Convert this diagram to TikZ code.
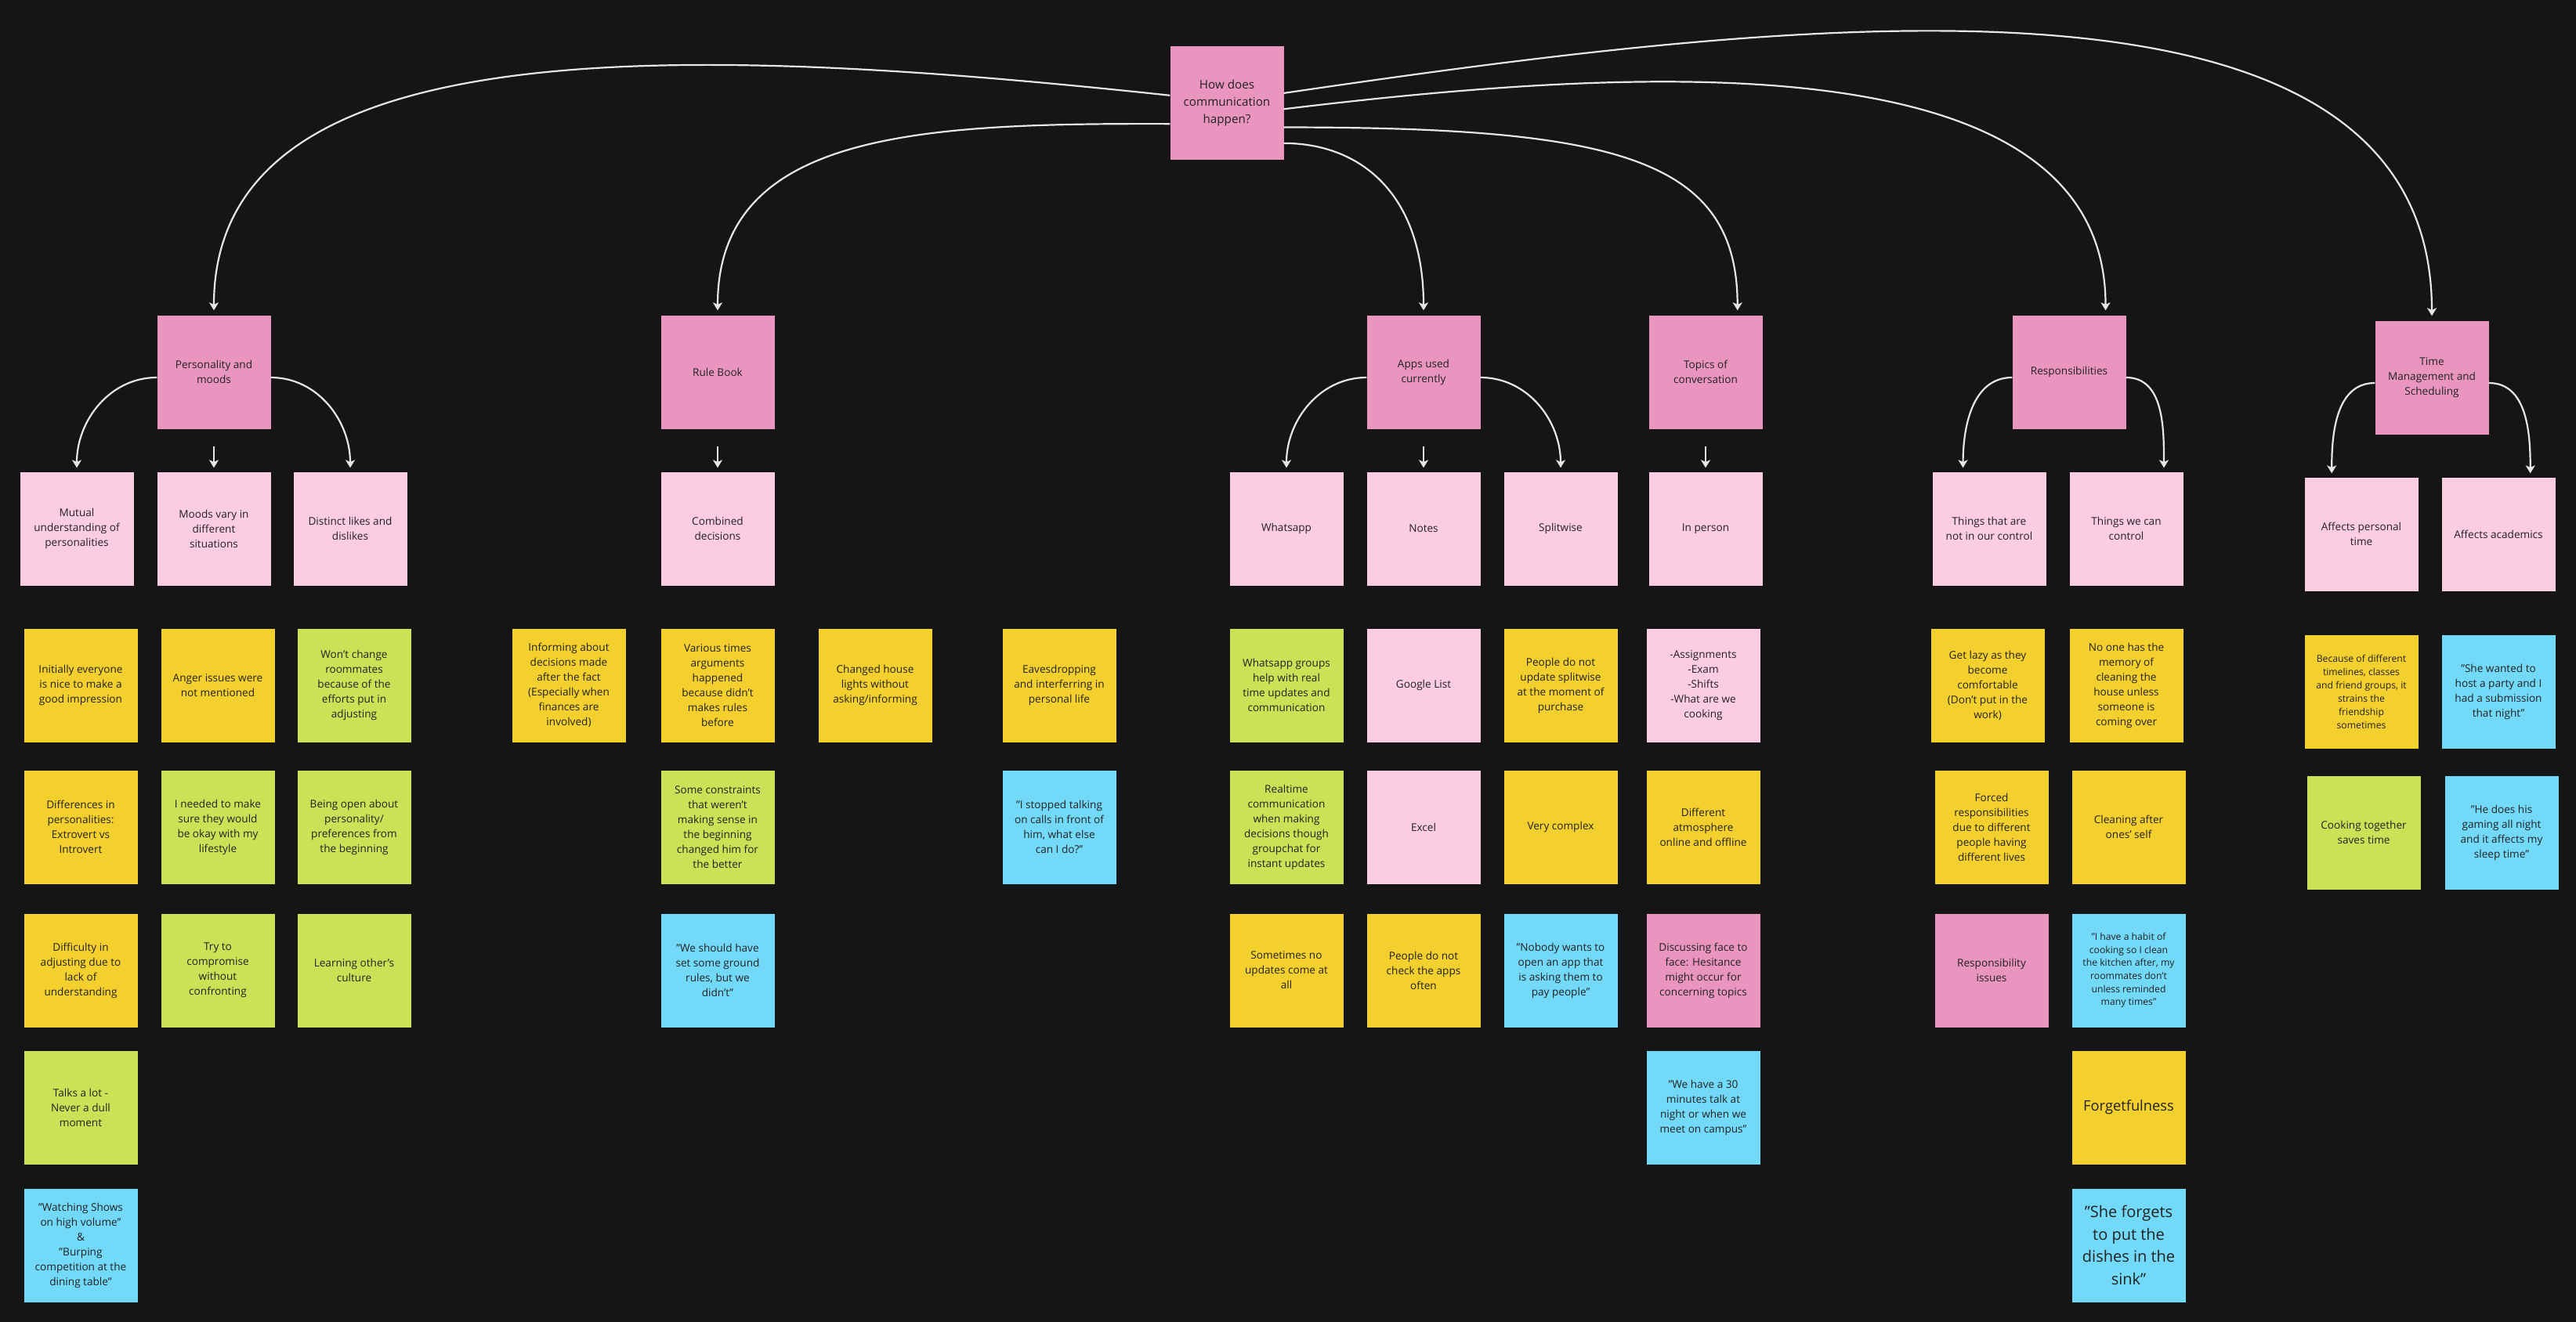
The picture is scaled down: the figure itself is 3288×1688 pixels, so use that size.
\documentclass[tikz,border=0pt]{standalone}
\usepackage{fontspec}
\setmainfont{Open Sans}
\usetikzlibrary{arrows.meta,calc}

\definecolor{board}{HTML}{151515}
\definecolor{wire}{HTML}{E6E6E6}
\definecolor{deeppink}{HTML}{E995C0}
\definecolor{palepink}{HTML}{FCCDE2}
\definecolor{noteyellow}{HTML}{F4D02F}
\definecolor{notelime}{HTML}{CDE157}
\definecolor{notecyan}{HTML}{72D9F8}
\definecolor{ink}{HTML}{222222}

\tikzset{
  sticky/.style={minimum width=145pt, minimum height=145pt, inner sep=1pt,
    align=center, text=ink, font=\fontsize{13.6}{19}\selectfont},
  topicnote/.style={sticky, fill=deeppink},
  subnote/.style={sticky, fill=palepink},
  pinknote/.style={sticky, fill=deeppink},
  yellownote/.style={sticky, fill=noteyellow},
  greennote/.style={sticky, fill=notelime},
  quotenote/.style={sticky, fill=notecyan},
  flow/.style={draw=wire, line width=2.2pt,
    -{Stealth[length=10pt, width=12pt, inset=2.5pt]}}
}

\begin{document}
\begin{tikzpicture}[x=1pt, y=1pt]

% Board
\fill[board] (0,0) rectangle (3288,-1688);
\useasboundingbox (0,0) rectangle (3288,-1688);

% Question
\node[topicnote, font=\fontsize{15.2}{22}\selectfont] (root) at (1566,-132) {How does\\communication\\happen?};

% Themes
\node[topicnote] (pers) at (273,-475) {Personality and\\moods};
\node[topicnote] (rule) at (916,-475) {Rule Book};
\node[topicnote] (apps) at (1817,-475) {Apps used\\currently};
\node[topicnote] (topics) at (2177,-475) {Topics of\\conversation};
\node[topicnote] (resp) at (2641,-475) {Responsibilities};
\node[topicnote] (time) at (3104,-482) {Time\\Management and\\Scheduling};

% Sub themes
\node[subnote] (mutual) at (98,-675) {Mutual\\understanding of\\personalities};
\node[subnote] (moods) at (273,-675) {Moods vary in\\different\\situations};
\node[subnote] (likes) at (447,-675) {Distinct likes and\\dislikes};
\node[subnote] (combined) at (916,-675) {Combined\\decisions};
\node[subnote] (whatsapp) at (1642,-675) {Whatsapp};
\node[subnote] (notes) at (1817,-675) {Notes};
\node[subnote] (splitwise) at (1992,-675) {Splitwise};
\node[subnote] (inperson) at (2177,-675) {In person};
\node[subnote] (notctrl) at (2539,-675) {Things that are\\not in our control};
\node[subnote] (canctrl) at (2714,-675) {Things we can\\control};
\node[subnote] (personal) at (3014,-682) {Affects personal\\time};
\node[subnote] (academics) at (3189,-682) {Affects academics};

% Question to themes
\draw[flow] ($(root.north west)!0.43!(root.south west)$) .. controls +(-654,70) and +(0,354) .. ([yshift=6pt]pers.north);
\draw[flow] ($(root.north west)!0.68!(root.south west)$) .. controls +(-319,1) and +(0,228) .. ([yshift=6pt]rule.north);
\draw[flow] ($(root.north east)!0.85!(root.south east)$) .. controls +(100,0) and +(0,146) .. ([yshift=6pt]apps.north);
\draw[flow] ($(root.north east)!0.71!(root.south east)$) .. controls +(420,0) and +(0,196) .. ($(topics.north west)!0.78!(topics.north east)+(0,6)$);
\draw[flow] ($(root.north east)!0.55!(root.south east)$) .. controls +(457,55) and +(0,346) .. ($(resp.north west)!0.82!(resp.north east)+(0,6)$);
\draw[flow] ($(root.north east)!0.41!(root.south east)$) .. controls +(667,98) and +(0,475) .. ([yshift=6pt]time.north);

% Themes to sub themes
\draw[flow] ([yshift=-7pt]pers.west) to[out=180,in=90] ([yshift=5pt]mutual.north);
\draw[flow] ([yshift=-7pt]pers.east) to[out=0,in=90] ([yshift=5pt]likes.north);
\draw[flow] ($(pers.south)!0.4!(moods.north)$) -- ([yshift=5pt]moods.north);
\draw[flow] ($(rule.south)!0.4!(combined.north)$) -- ([yshift=5pt]combined.north);
\draw[flow] ([yshift=-7pt]apps.west) to[out=180,in=90] ([yshift=5pt]whatsapp.north);
\draw[flow] ([yshift=-7pt]apps.east) to[out=0,in=90] ([yshift=5pt]splitwise.north);
\draw[flow] ($(apps.south)!0.4!(notes.north)$) -- ([yshift=5pt]notes.north);
\draw[flow] ($(topics.south)!0.4!(inperson.north)$) -- ([yshift=5pt]inperson.north);
\draw[flow] ([yshift=-7pt]resp.west) to[out=180,in=90] ($(notctrl.north west)!0.27!(notctrl.north east)+(0,5)$);
\draw[flow] ([yshift=-7pt]resp.east) to[out=0,in=90] ($(canctrl.north west)!0.83!(canctrl.north east)+(0,5)$);
\draw[flow] ([yshift=-7pt]time.west) to[out=180,in=90] ($(personal.north west)!0.24!(personal.north east)+(0,5)$);
\draw[flow] ([yshift=-7pt]time.east) to[out=0,in=90] ($(academics.north west)!0.78!(academics.north east)+(0,5)$);

% Personality and moods notes
\node[yellownote] (pa1) at (103,-875) {Initially everyone\\is nice to make a\\good impression};
\node[yellownote] (pa2) at (103,-1056) {Differences in\\personalities:\\Extrovert vs\\Introvert};
\node[yellownote] (pa3) at (103,-1239) {Difficulty in\\adjusting due to\\lack of\\understanding};
\node[greennote] (pa4) at (103,-1414) {Talks a lot -\\Never a dull\\moment};
\node[quotenote] (pa5) at (103,-1590) {"Watching Shows\\on high volume"\\\&\\"Burping\\competition at the\\dining table"};
\node[yellownote] (pb1) at (278,-875) {Anger issues were\\not mentioned};
\node[greennote] (pb2) at (278,-1056) {I needed to make\\sure they would\\be okay with my\\lifestyle};
\node[greennote] (pb3) at (278,-1239) {Try to\\compromise\\without\\confronting};
\node[greennote] (pc1) at (452,-875) {Won't change\\roommates\\because of the\\efforts put in\\adjusting};
\node[greennote] (pc2) at (452,-1056) {Being open about\\personality/\\preferences from\\the beginning};
\node[greennote] (pc3) at (452,-1239) {Learning other's\\culture};

% Rule book notes
\node[yellownote] (ra1) at (726,-875) {Informing about\\decisions made\\after the fact\\(Especially when\\finances are\\involved)};
\node[yellownote] (rb1) at (916,-875) {Various times\\arguments\\happened\\because didn't\\makes rules\\before};
\node[greennote] (rb2) at (916,-1056) {Some constraints\\that weren't\\making sense in\\the beginning\\changed him for\\the better};
\node[quotenote] (rb3) at (916,-1239) {"We should have\\set some ground\\rules, but we\\didn't"};
\node[yellownote] (rc1) at (1117,-875) {Changed house\\lights without\\asking/informing};
\node[yellownote] (rd1) at (1352,-875) {Eavesdropping\\and interferring in\\personal life};
\node[quotenote] (rd2) at (1352,-1056) {"I stopped talking\\on calls in front of\\him, what else\\can I do?"};

% Apps notes
\node[greennote] (wa1) at (1642,-875) {Whatsapp groups\\help with real\\time updates and\\communication};
\node[greennote] (wa2) at (1642,-1056) {Realtime\\communication\\when making\\decisions though\\groupchat for\\instant updates};
\node[yellownote] (wa3) at (1642,-1239) {Sometimes no\\updates come at\\all};
\node[subnote] (no1) at (1817,-875) {Google List};
\node[subnote] (no2) at (1817,-1056) {Excel};
\node[yellownote] (no3) at (1817,-1239) {People do not\\check the apps\\often};
\node[yellownote] (sp1) at (1992,-875) {People do not\\update splitwise\\at the moment of\\purchase};
\node[yellownote] (sp2) at (1992,-1056) {Very complex};
\node[quotenote] (sp3) at (1992,-1239) {"Nobody wants to\\open an app that\\is asking them to\\pay people"};

% Topics notes
\node[subnote] (ip1) at (2174,-875) {-Assignments\\-Exam\\-Shifts\\-What are we\\cooking};
\node[yellownote] (ip2) at (2174,-1056) {Different\\atmosphere\\online and offline};
\node[pinknote] (ip3) at (2174,-1239) {Discussing face to\\face: Hesitance\\might occur for\\concerning topics};
\node[quotenote] (ip4) at (2174,-1414) {"We have a 30\\minutes talk at\\night or when we\\meet on campus"};

% Responsibilities notes
\node[yellownote] (nc1) at (2537,-875) {Get lazy as they\\become\\comfortable\\(Don't put in the\\work)};
\node[yellownote] (nc2) at (2542,-1056) {Forced\\responsibilities\\due to different\\people having\\different lives};
\node[pinknote] (nc3) at (2542,-1239) {Responsibility\\issues};
\node[yellownote] (cc1) at (2714,-875) {No one has the\\memory of\\cleaning the\\house unless\\someone is\\coming over};
\node[yellownote] (cc2) at (2717,-1056) {Cleaning after\\ones' self};
\node[quotenote, font=\fontsize{12.2}{16.7}\selectfont] (cc3) at (2717,-1239) {"I have a habit of\\cooking so I clean\\the kitchen after, my\\roommates don't\\unless reminded\\many times"};
\node[yellownote, font=\fontsize{18.3}{25}\selectfont] (cc4) at (2717,-1414) {Forgetfulness};
\node[quotenote, font=\fontsize{20}{28.7}\selectfont] (cc5) at (2717,-1590) {"She forgets\\to put the\\dishes in the\\sink"};

% Time management notes
\node[yellownote, font=\fontsize{12.2}{17}\selectfont] (pt1) at (3014,-883) {Because of different\\timelines, classes\\and friend groups, it\\strains the\\friendship\\sometimes};
\node[greennote] (pt2) at (3017,-1063) {Cooking together\\saves time};
\node[quotenote] (ac1) at (3189,-883) {"She wanted to\\host a party and I\\had a submission\\that night"};
\node[quotenote] (ac2) at (3193,-1063) {"He does his\\gaming all night\\and it affects my\\sleep time"};

\end{tikzpicture}
\end{document}
